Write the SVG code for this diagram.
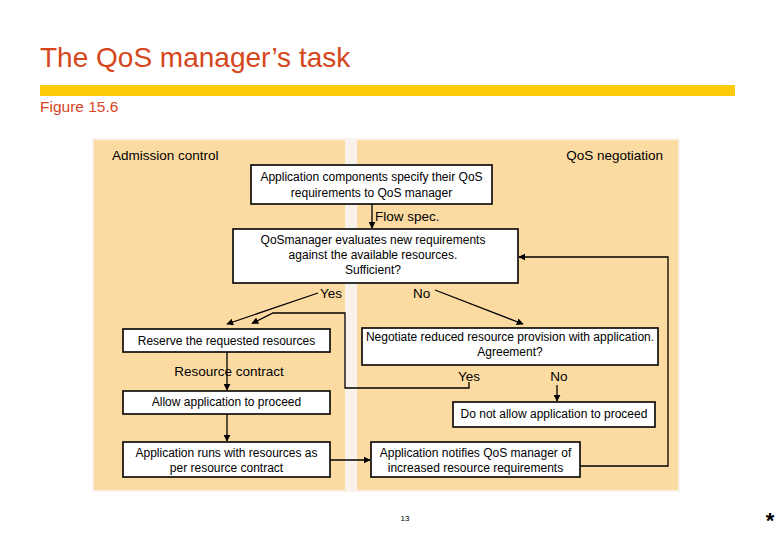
<svg xmlns="http://www.w3.org/2000/svg" width="780" height="540" viewBox="0 0 780 540">
<style>
.box{fill:#fff;stroke:#000;stroke-width:1.6}
.t{font-family:"Liberation Sans",Arial,sans-serif;font-size:12px;fill:#000;text-anchor:middle}
.l{font-family:"Liberation Sans",Arial,sans-serif;font-size:13.5px;fill:#000}
.c{fill:none;stroke:#000;stroke-width:1.3}
.panel{fill:#FCDBA3}
</style>
<defs>
<marker id="ah" viewBox="0 0 10 10" refX="9" refY="5" markerWidth="7" markerHeight="7" markerUnits="userSpaceOnUse" orient="auto">
<path d="M0,0 L10,5 L0,10 z" fill="#000"/>
</marker>
</defs>
<rect width="780" height="540" fill="#fff"/>
<text x="40" y="67" font-family="Liberation Sans,Arial,sans-serif" font-size="28" fill="#D6461C">The QoS manager’s task</text>
<rect x="40" y="85" width="695" height="11" fill="#FCCC0A"/>
<text x="40" y="112" font-family="Liberation Sans,Arial,sans-serif" font-size="15.5" fill="#D6461C">Figure 15.6</text>

<rect x="92" y="138" width="588" height="354" fill="#F8F2EA"/>
<rect class="panel" x="94" y="140" width="251" height="350"/>
<rect class="panel" x="357" y="140" width="321" height="350"/>
<text class="l" x="112" y="160">Admission control</text>
<text class="l" x="663" y="160" text-anchor="end">QoS negotiation</text>

<g id="connectors">
<line class="c" x1="372" y1="204" x2="372" y2="228" marker-end="url(#ah)"/>
<line class="c" x1="318" y1="293" x2="227" y2="324" marker-end="url(#ah)"/>
<polyline class="c" points="469,382 469,388 345,388 345,313 273,313 252,323.5" marker-end="url(#ah)"/>
<line class="c" x1="435" y1="290" x2="523" y2="324" marker-end="url(#ah)"/>
<line class="c" x1="227" y1="352" x2="227" y2="390" marker-end="url(#ah)"/>
<line class="c" x1="227" y1="414" x2="227" y2="441" marker-end="url(#ah)"/>
<line class="c" x1="330" y1="460" x2="370" y2="460" marker-end="url(#ah)"/>
<line class="c" x1="557" y1="385" x2="557" y2="401" marker-end="url(#ah)"/>
<polyline class="c" points="580,466 668,466 668,257 519,257" marker-end="url(#ah)"/>
<text class="l" x="375" y="221">Flow spec.</text>
<text class="l" x="320" y="298">Yes</text>
<text class="l" x="413" y="298">No</text>
<text class="l" x="229" y="376" text-anchor="middle">Resource contract</text>
<text class="l" x="469" y="381" text-anchor="middle">Yes</text>
<text class="l" x="559" y="381" text-anchor="middle">No</text>
</g>

<g id="n1"><rect class="box" x="251" y="165" width="241" height="39"/>
<text class="t" x="371.5" y="181">Application components specify their QoS</text>
<text class="t" x="371.5" y="197">requirements to QoS manager</text></g>

<g id="n2"><rect class="box" x="233" y="229" width="285" height="54"/>
<text class="t" x="373" y="244">QoSmanager evaluates new requirements</text>
<text class="t" x="373" y="259">against the  available resources.</text>
<text class="t" x="373" y="274">Sufficient?</text></g>

<g id="n3"><rect class="box" x="123" y="329" width="207" height="23"/>
<text class="t" x="226.5" y="345">Reserve the requested resources</text></g>

<g id="n4"><rect class="box" x="123" y="391" width="207" height="23"/>
<text class="t" x="226.5" y="406">Allow application to proceed</text></g>

<g id="n5"><rect class="box" x="123" y="442" width="207" height="35"/>
<text class="t" x="226.5" y="457">Application runs with resources as</text>
<text class="t" x="226.5" y="472">per resource contract</text></g>

<g id="n6"><rect class="box" x="371" y="442" width="209" height="35"/>
<text class="t" x="475.5" y="457">Application notifies QoS manager of</text>
<text class="t" x="475.5" y="472">increased resource requirements</text></g>

<g id="n7"><rect class="box" x="362" y="328" width="296" height="37"/>
<text class="t" x="510" y="341">Negotiate reduced resource provision with application.</text>
<text class="t" x="510" y="356">Agreement?</text></g>

<g id="n8"><rect class="box" x="453" y="402" width="202" height="25"/>
<text class="t" x="554" y="418">Do not allow application to proceed</text></g>

<text x="405" y="521" font-family="Liberation Sans,Arial,sans-serif" font-size="8" fill="#000" text-anchor="middle">13</text>
<text x="770" y="528" font-family="Liberation Sans,Arial,sans-serif" font-size="22" font-weight="bold" fill="#000" text-anchor="middle">*</text>
</svg>
